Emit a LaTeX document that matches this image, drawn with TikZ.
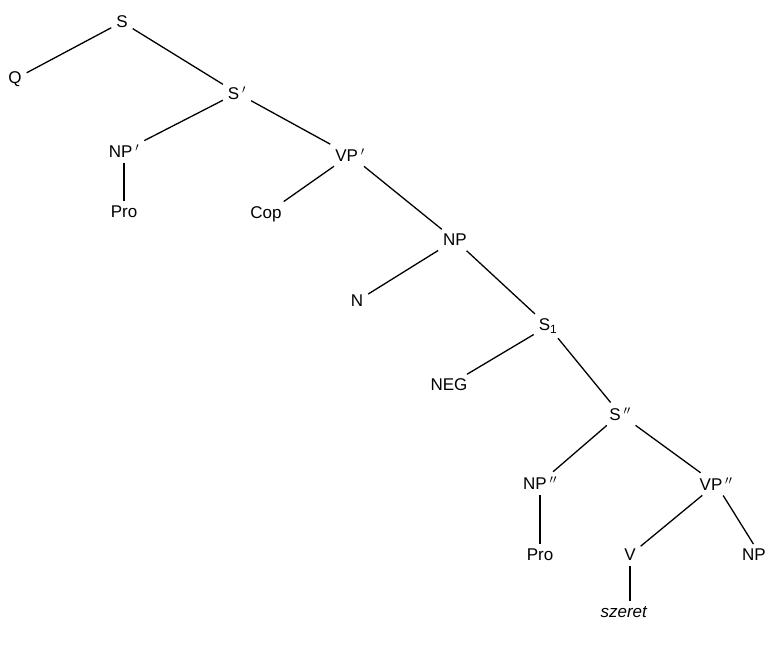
\documentclass[tikz,border=0pt]{standalone}
\usepackage{fontspec}
\setmainfont{Liberation Sans}
\usetikzlibrary{positioning}

\begin{document}
\begin{tikzpicture}[
    x=1pt, y=-1pt,
    cat/.style={inner sep=4pt, font=\fontsize{17}{19}\selectfont},
    branch/.style={line width=1.3pt, shorten <=1pt, shorten >=1pt},
]
\useasboundingbox (0,0) rectangle (767,649);

% upper part
\node[cat] (s)    at (122,22)  {S};
\node[cat] (q)    at (15,79)   {Q};
\node[cat] (s1p)  at (237,93)  {S$\,'$};
\node[cat] (np1)  at (124,151) {NP$\,'$};
\node[cat] (pro1) at (124,212) {Pro};
\node[cat] (vp1)  at (350,155) {VP$\,'$};
\node[cat] (cop)  at (266,214) {Cop};
\node[cat] (np)   at (455,240) {NP};
\node[cat] (n)    at (357,301) {N};
\node[cat] (ssub) at (548,326) {S\textsubscript{1}};
\node[cat] (neg)  at (449,385) {NEG};

% embedded clause
\node[cat] (s2p)  at (620,414) {S$\,''$};
\node[cat] (np2)  at (540,483) {NP$\,''$};
\node[cat] (vp2)  at (716,484) {VP$\,''$};
\node[cat] (pro2) at (540,555) {Pro};
\node[cat] (v)    at (630,555) {V};
\node[cat, anchor=east, inner xsep=1pt] (npo) at (767,555) {NP};
\node[cat] (verb) at (624,612) {\textit{szeret}};

\draw[branch] (s)    -- (q);
\draw[branch] (s)    -- (s1p);
\draw[branch] (s1p)  -- (np1);
\draw[branch] (s1p)  -- (vp1);
\draw[branch] (np1)  -- (pro1);
\draw[branch] (vp1)  -- (cop);
\draw[branch] (vp1)  -- (np);
\draw[branch] (np)   -- (n);
\draw[branch] (np)   -- (ssub);
\draw[branch] (ssub) -- (neg);
\draw[branch] (ssub) -- (s2p);
\draw[branch] (s2p)  -- (np2);
\draw[branch] (s2p)  -- (vp2);
\draw[branch] (np2)  -- (pro2);
\draw[branch] (vp2)  -- (v);
\draw[branch] (vp2)  -- (npo.north);
\draw[branch] (v)    -- (v |- verb.north);

\end{tikzpicture}
\end{document}
